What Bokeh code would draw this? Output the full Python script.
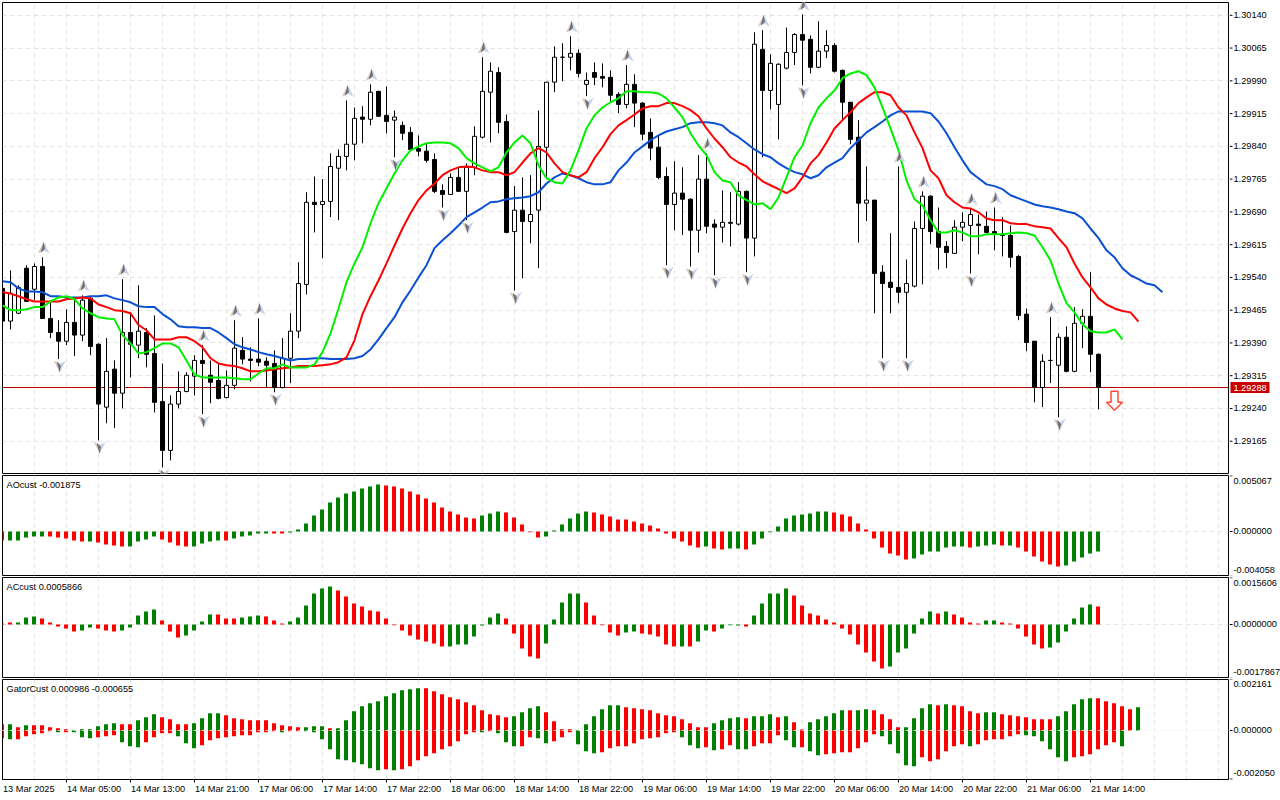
import numpy as np
from bokeh.plotting import figure
from bokeh.layouts import column, row
from bokeh.embed import file_html
from bokeh.resources import INLINE
from bokeh.core.properties import value
from bokeh.models import Range1d, LinearAxis, FixedTicker, Grid, Span, Label

# ---------- data: prices in points (1.29515 is written 29515) ----------
open_pts = [29515,29440,29458,29561,29513,29565,29446,29414,29394,29437,
29408,29492,29387,29243,29330,29275,29414,29385,29414,29366,
29256,29144,29250,29279,29314,29350,29316,29304,29265,29293,
29373,29353,29353,29348,29343,29288,29355,29417,29524,29712,
29707,29714,29790,29817,29845,29907,29902,29966,29911,29900,
29888,29872,29835,29829,29810,29739,29730,29769,29737,29792,
29861,29964,30009,29897,29645,29694,29668,29694,29838,29987,
30044,30044,30053,29982,30009,30000,29998,29959,29936,29982,
29939,29872,29838,29771,29707,29733,29719,29648,29765,29662,
29655,29666,29662,29737,29630,30062,29968,29936,30019,30055,
30096,30085,30021,30058,30071,30014,29941,29861,29710,29717,
29552,29529,29517,29506,29520,29652,29726,29645,29611,29595,
29655,29659,29662,29657,29645,29639,29636,29588,29456,29394,
29288,29350,29339,29403,29325,29435,29451,29364]
close_pts = [29440,29504,29517,29485,29565,29446,29414,29394,29437,29408,
29488,29382,29250,29325,29275,29414,29387,29417,29364,29254,
29144,29250,29279,29316,29350,29343,29300,29263,29293,29378,
29353,29350,29346,29339,29288,29355,29417,29526,29712,29707,
29714,29794,29817,29845,29904,29902,29964,29909,29897,29907,
29870,29833,29829,29808,29737,29730,29769,29737,29792,29863,
29966,30012,29895,29643,29694,29668,29684,29840,29987,30044,
30044,30053,30007,29991,29998,29996,29957,29936,29982,29939,
29868,29836,29769,29707,29733,29719,29648,29765,29657,29655,
29666,29664,29737,29630,30074,29968,30030,30028,30055,30096,
30083,30021,30058,30071,30012,29941,29856,29710,29717,29549,
29526,29517,29506,29526,29652,29726,29645,29609,29597,29655,
29666,29684,29659,29643,29639,29636,29586,29453,29391,29288,
29348,29350,29403,29325,29435,29451,29364,29288]
high_pts = [29556,29556,29522,29568,29572,29586,29488,29442,29467,29488,
29499,29495,29389,29401,29350,29536,29460,29522,29424,29453,
29343,29270,29325,29323,29362,29385,29350,29343,29327,29442,
29403,29380,29446,29357,29373,29401,29458,29575,29735,29771,
29765,29824,29833,29945,29929,29932,29982,29967,29977,29922,
29897,29884,29865,29847,29824,29753,29778,29792,29801,29886,
30044,30032,30021,29913,29749,29769,29774,29922,29987,30069,
30076,30092,30062,30009,30032,30030,30014,29964,30026,30005,
29941,29904,29865,29792,29806,29792,29721,29820,29824,29673,
29739,29735,29758,29739,30101,30106,30051,30030,30112,30099,
30142,30094,30126,30106,30076,30016,29941,29900,29794,29717,
29568,29641,29794,29581,29668,29737,29728,29700,29623,29671,
29689,29698,29684,29691,29700,29678,29659,29591,29469,29394,
29364,29449,29412,29428,29472,29467,29552,29366]
low_pts = [29419,29421,29456,29485,29488,29445,29401,29353,29385,29360,
29394,29362,29167,29206,29195,29240,29311,29355,29334,29231,
29105,29121,29240,29277,29270,29227,29252,29261,29263,29284,
29341,29302,29337,29288,29277,29286,29298,29401,29501,29643,
29584,29678,29671,29785,29808,29847,29888,29907,29870,29815,
29854,29831,29817,29803,29733,29700,29730,29737,29671,29774,
29858,29849,29870,29641,29510,29538,29618,29561,29769,29964,
29989,30014,29998,29955,29980,29975,29941,29916,29927,29884,
29854,29808,29765,29568,29648,29637,29565,29597,29641,29545,
29620,29611,29659,29552,29588,29815,29925,29856,30016,30026,
29980,30007,30019,30042,30009,29900,29845,29620,29669,29458,
29355,29458,29481,29355,29517,29524,29616,29558,29561,29595,
29623,29549,29593,29641,29602,29588,29563,29442,29371,29254,
29243,29298,29220,29323,29323,29378,29323,29238]

jaw_pts = [29531,29529,29515,29508,29508,29506,29497,29497,29494,29494,
29494,29497,29497,29499,29492,29488,29483,29474,29472,29472,
29456,29444,29428,29426,29426,29424,29424,29414,29401,29387,
29380,29375,29369,29364,29360,29355,29350,29353,29353,29355,
29355,29353,29353,29353,29355,29360,29375,29398,29424,29449,
29483,29510,29540,29568,29607,29625,29641,29659,29678,29689,
29700,29712,29714,29719,29721,29723,29726,29735,29755,29769,
29778,29774,29767,29758,29753,29753,29758,29785,29803,29826,
29840,29854,29865,29874,29879,29884,29893,29895,29895,29893,
29888,29872,29861,29847,29833,29822,29815,29801,29790,29781,
29776,29767,29774,29792,29803,29813,29836,29854,29872,29884,
29897,29911,29920,29920,29920,29920,29916,29897,29870,29838,
29808,29781,29767,29753,29749,29742,29728,29721,29714,29707,
29703,29700,29696,29691,29687,29675,29652,29630,29602,29586,
29561,29545,29536,29526,29522,29506]
teeth_pts = [29506,29503,29497,29490,29485,29485,29485,29485,29490,29492,
29494,29492,29478,29472,29465,29463,29458,29431,29419,29398,
29398,29398,29403,29403,29394,29380,29355,29343,29339,29337,
29332,29325,29325,29327,29330,29332,29334,29337,29337,29337,
29339,29341,29346,29357,29396,29456,29497,29533,29572,29613,
29652,29687,29717,29739,29755,29774,29785,29792,29794,29792,
29785,29781,29781,29774,29781,29803,29824,29836,29826,29801,
29781,29774,29769,29781,29813,29838,29868,29888,29900,29913,
29927,29932,29932,29939,29939,29932,29923,29909,29881,29858,
29838,29815,29803,29794,29776,29760,29751,29742,29733,29744,
29769,29801,29820,29849,29881,29900,29918,29939,29952,29964,
29964,29957,29929,29911,29872,29836,29785,29767,29728,29712,
29700,29698,29689,29675,29671,29671,29664,29662,29662,29657,
29655,29652,29630,29609,29572,29540,29517,29492,29478,29469,
29463,29460,29439]
lips_pts = [29476,29465,29465,29467,29472,29472,29485,29494,29497,29490,
29469,29458,29449,29446,29444,29408,29389,29366,29369,29378,
29389,29389,29380,29350,29318,29311,29311,29311,29311,29309,
29307,29307,29320,29332,29332,29341,29334,29334,29334,29341,
29369,29412,29469,29529,29572,29609,29664,29710,29744,29778,
29808,29831,29840,29847,29849,29849,29847,29836,29813,29801,
29792,29783,29792,29826,29849,29865,29847,29797,29767,29758,
29755,29785,29831,29881,29911,29929,29941,29950,29966,29966,
29964,29964,29961,29950,29929,29907,29870,29842,29820,29781,
29762,29758,29728,29717,29707,29710,29696,29723,29769,29815,
29842,29893,29929,29950,29968,29996,30007,30012,30003,29975,
29929,29881,29831,29762,29719,29705,29671,29643,29643,29648,
29643,29634,29634,29639,29639,29639,29641,29643,29641,29636,
29609,29579,29526,29481,29460,29433,29417,29414,29414,29421,
29398]

fractal_up = [5,10,15,25,29,32,43,46,60,71,78,88,95,100,112,115,121,124,131]
fractal_down = [7,12,20,25,34,49,55,58,64,73,83,86,89,93,100,110,113,121,132]
signal_bar = [139]
signal_pts = [29236]
last_price = 1.29288

# indicator values in millionths
ao_vals = [-818,-818,-818,-545,-455,-455,-455,-545,-636,-818,
-909,-909,-1000,-1182,-1273,-1364,-1364,-909,-727,-455,
-727,-1000,-1273,-1364,-1364,-1091,-909,-818,-818,-636,
-455,-364,-182,-182,-182,-182,-91,182,727,1454,
2000,2636,3091,3454,3636,3909,4091,4272,4181,4091,
3909,3636,3363,3000,2636,2182,1818,1545,1273,1182,
1454,1636,1818,1727,1273,636,-60,-545,-455,90,
636,1182,1636,1818,1727,1545,1364,1091,1091,909,
727,545,273,-182,-636,-909,-1273,-1454,-1364,-1545,
-1636,-1545,-1545,-1636,-1182,-636,-60,454,1182,1454,
1545,1636,1818,1818,1727,1545,1364,727,182,-636,
-1454,-2000,-2182,-2545,-2454,-2091,-1818,-1818,-1454,-1364,
-1364,-1454,-1364,-1273,-1182,-1273,-1273,-1454,-1818,-2273,
-2727,-3000,-3182,-3091,-2727,-2364,-2000,-1818]
ao_dir = ("RGGGGGRRRR" "RGRRRRGGGG" "RRRRGGGGRG" "GGGGRRGGGG" "GGGGGGGGRR"
          "RRRRRRRRRR" "GGGRRRRRGG" "GGGGRRRRRR" "RRRRRRRRGR" "RGGRGGGGGG"
          "GGGGRRRRRR" "RRRRGGGGGG" "GRGGGRGRRR" "RRRGGGGG")
ac_vals = [33,67,67,233,266,200,67,-67,-133,-233,
-200,-100,-133,-200,-233,-200,-100,300,433,500,
133,-233,-433,-366,-200,100,333,333,200,200,
233,266,300,266,133,33,100,233,633,1032,
1199,1265,1132,932,699,599,466,433,200,-22,
-200,-366,-500,-566,-633,-733,-733,-666,-666,-400,
-33,233,366,200,-300,-799,-1066,-1132,-633,167,
733,1032,1032,733,300,-22,-266,-366,-266,-233,
-300,-333,-400,-666,-733,-733,-733,-566,-200,-233,
-133,-22,-33,-67,300,699,1032,1032,1199,966,
633,366,300,167,67,-133,-333,-666,-932,-1232,
-1465,-1399,-932,-799,-300,200,433,366,433,333,
233,67,33,133,133,67,33,-133,-400,-666,
-799,-766,-599,-233,200,566,666,599]
ac_dir = ("RRGGGRRRRR" "GGRRRGGGGG" "RRRGGGGRRR" "GGGRRRGGGG" "GGRRRRRRRR"
          "RRRRRRGGGG" "GGGRRRRRGG" "GGGRRRRRGG" "RRRRRGRGGR" "GGGRGGGGGR"
          "RRRRRRRRRR" "RGGGGGGRGR" "RRRGGRRRRR" "RGGGGGGR")
gator_up = [267,267,141,225,225,225,141,98,56,14,
56,56,183,267,309,267,267,436,562,689,
562,478,267,267,309,520,731,731,647,520,
478,436,436,436,309,225,183,141,141,183,
183,98,98,436,815,1026,1153,1237,1448,1575,
1701,1743,1786,1786,1659,1533,1406,1322,1195,1069,
858,689,647,562,605,773,942,1026,773,394,
56,56,14,267,605,900,1069,1069,984,942,
900,858,731,647,605,478,309,141,141,309,
436,520,562,520,605,605,689,562,605,352,
42,352,478,605,731,858,858,858,900,858,
689,478,141,141,520,942,1111,1069,1111,1069,
1026,815,731,773,773,689,647,605,562,478,
478,478,605,815,1111,1322,1364,1364,1237,1153,
1026,900,984]
gator_up_dir = ("RGRGRRRRRG" "GGGGGRRGGG" "RRRRGGGGRR" "RRRRRRRRGG" "GRGGGGGGGG"
                "GGGRRRRRRR" "RRRRGGGGRR" "RRGGGGGGRR" "RRRRRRRRRG" "GGGRGGGRGR"
                "RGGGGGRGGR" "RRRGGGGRGR" "RRRGGRRRRR" "RRGGGGGRRR" "RRG")
gator_down = [-323,-366,-366,-239,-155,-112,-28,-70,-70,-70,
-281,-323,-281,-239,-197,-492,-661,-703,-492,-281,
-112,-112,-239,-534,-745,-619,-408,-323,-281,-239,
-197,-197,-70,-70,-28,-70,-28,-28,-28,-70,
-366,-787,-1209,-1251,-1336,-1420,-1589,-1673,-1631,-1673,
-1631,-1504,-1251,-1083,-956,-787,-661,-450,-155,-70,
-70,-28,-112,-492,-661,-661,-281,-323,-534,-450,
-281,-70,-576,-872,-956,-914,-745,-661,-661,-534,
-366,-323,-281,-112,-70,-281,-619,-745,-703,-830,
-787,-619,-787,-787,-661,-534,-534,-197,-408,-703,
-703,-872,-1040,-998,-956,-914,-914,-745,-492,-155,
-239,-576,-956,-1462,-1504,-1125,-1294,-1209,-872,-661,
-576,-661,-576,-408,-366,-366,-239,-155,-197,-239,
-450,-787,-1125,-1294,-1125,-1083,-998,-787,-619,-492,
-661]
gator_down_dir = ("RGRRRRRGRG" "GGRRRGGGRR" "RRGGGRRRRR" "RRRRRGRRGG" "GGGGGGGGRG"
                  "RRRRRRRRRR" "GRGGGRRGGR" "RRGGGRRRRR" "RRRRRGGGRG" "RRGGRRRRGG"
                  "RGGRRRRRRR" "GGGGGRRRRR" "RGRRRRRRGG" "GGGGRRRRRR" "G")

price_ticks = [1.29165,1.29240,1.29315,1.29390,1.29465,1.29540,1.29615,
               1.29690,1.29765,1.29840,1.29915,1.29990,1.30065,1.30140]
time_bars = [0,8,16,24,32,40,48,56,64,72,80,88,96,104,112,120,128,136]
time_labels = ["13 Mar 2025","14 Mar 05:00","14 Mar 13:00","14 Mar 21:00","17 Mar 06:00",
               "17 Mar 14:00","17 Mar 22:00","18 Mar 06:00","18 Mar 14:00","18 Mar 22:00",
               "19 Mar 06:00","19 Mar 14:00","19 Mar 22:00","20 Mar 06:00","20 Mar 14:00",
               "20 Mar 22:00","21 Mar 06:00","21 Mar 14:00"]
ao_scale = ["AOcust -0.001875", 0.005067, -0.004058, "0.005067", "-0.004058", "0.000000"]
ac_scale = ["ACcust 0.0005866", 0.0015606, -0.0017867, "0.0015606", "-0.0017867", "0.0000000"]
gator_scale = ["GatorCust 0.000986 -0.000655", 0.002161, -0.002050, "0.002161", "-0.002050", "0.000000"]

# ---------- style ----------
FONT = "Liberation Sans"
FS = "9.2px"
GRID = "#e2e2e2"
GREEN, RED = "#008000", "#ff0000"
X_END = 1226 / 8
PX = 1 / 43684          # price per pixel in the main window
HALF = 0.0625           # half a pixel in bar units: fills start on whole pixels
MAIN_YMAX = last_price + 385 * PX
MAIN_YMIN = MAIN_YMAX - 471 * PX

def price(a):
    return 1 + np.array(a, dtype=float) / 1e5

def make(h, top, bottom, ymin, ymax):
    p = figure(width=1229, height=h, output_backend="svg", toolbar_location=None,
               x_range=Range1d(0, X_END), y_range=Range1d(ymin, ymax),
               x_axis_type=None, y_axis_type=None,
               min_border_left=2, min_border_right=1, min_border_top=top, min_border_bottom=bottom)
    p.outline_line_color = "black"
    p.outline_line_width = 1
    p.background_fill_color = "white"
    p.border_fill_color = "white"
    p.grid.visible = False
    p.add_layout(Grid(dimension=0, ticker=FixedTicker(ticks=list(range(4, 154, 4))),
                      grid_line_color=GRID, grid_line_dash="4 4", grid_line_width=1, level="underlay"))
    return p

def make_strip(h, top, bottom, ymin, ymax):
    s = figure(width=51, height=h, output_backend="svg", toolbar_location=None,
               x_range=Range1d(0, 51), y_range=Range1d(ymin, ymax),
               x_axis_type=None, y_axis_type=None,
               min_border_left=0, min_border_right=0, min_border_top=top, min_border_bottom=bottom)
    s.outline_line_color = None
    s.background_fill_color = "white"
    s.border_fill_color = "white"
    s.grid.visible = False
    return s

def strip_text(s, ys, texts, offsets=None):
    s.segment([0] * len(ys), ys, [3] * len(ys), ys, line_color="black", line_width=1)
    s.text([4] * len(ys), ys, texts, y_offset=offsets if offsets else 0, text_font=value(FONT),
           text_font_size=value(FS), text_baseline="middle", text_align="left", text_color="black")

# ---------- main window ----------
main = make(475, 2, 2, MAIN_YMIN, MAIN_YMAX)
main.add_layout(Grid(dimension=1, ticker=FixedTicker(ticks=price_ticks), grid_line_color=GRID,
                     grid_line_dash="4 4", level="underlay"))
main.add_layout(Span(location=last_price, dimension="width", line_color="#c00000", line_width=1, level="underlay"))

o, h_, l_, c = price(open_pts), price(high_pts), price(low_pts), price(close_pts)
xb = np.arange(len(o))
main.segment(xb, h_, xb, l_, line_color="black", line_width=1)
up = c >= o
main.vbar(xb[up], 0.5, o[up], c[up], fill_color="white", line_color="black", line_width=1)
main.vbar(xb[~up], 0.5, o[~up], c[~up], fill_color="black", line_color="black", line_width=1)

main.line(np.arange(len(jaw_pts)), price(jaw_pts), line_color="#0A50D2", line_width=2)
main.line(np.arange(len(teeth_pts)), price(teeth_pts), line_color="#ff0000", line_width=2)
main.line(np.arange(len(lips_pts)), price(lips_pts), line_color="#00f000", line_width=2)

# fractal arrows: small shaded arrowheads tied to the bar's high or low
def arrows(idx, base, off, sign):
    lx, ly, rx, ry, kx, ky = [], [], [], [], [], []
    for i in idx:
        cx = i + 0.15
        cy = base[i] + sign * off * PX
        tip = cy + sign * 6.5 * PX
        wing = cy - sign * 5.5 * PX
        notch = cy - sign * 2 * PX
        lx.append([cx, cx - 6 / 8, cx]); ly.append([tip, wing, notch])
        rx.append([cx, cx, cx + 6 / 8]); ry.append([tip, notch, wing])
        kx.append([cx, cx - 3 / 8, cx, cx + 1.2 / 8]); ky.append([tip, wing + sign * 1 * PX, notch, cy])
    return lx, ly, rx, ry, kx, ky

for idx, base, off, sign in ((fractal_up, h_, 9, 1), (fractal_down, l_, 7, -1)):
    lx, ly, rx, ry, kx, ky = arrows(idx, base, off, sign)
    main.patches(lx, ly, fill_color="#d3c8ba", line_color=None)
    main.patches(rx, ry, fill_color="#c8d3ea", line_color=None)
    main.patches(kx, ky, fill_color="#6f7076", line_color=None)

# sell signal arrow
sx, sy = signal_bar[0], price(signal_pts)[0]
main.patch([sx + d / 8 for d in (0, -8, -3.5, -3.5, 3.5, 3.5, 8)],
           [sy + d * PX for d in (0, 8, 8, 19, 19, 8, 8)],
           fill_color="white", line_color="#ff4a3a", line_width=1.5)

main_strip = make_strip(475, 2, 2, MAIN_YMIN, MAIN_YMAX)
strip_text(main_strip, price_ticks, [f"{t:.5f}" for t in price_ticks])
main_strip.rect([20.5], [last_price], width=39, height=11, height_units="screen",
                fill_color="#c80000", line_color=None)
main_strip.text([20.5], [last_price], ["1.29288"], text_font=value(FONT), text_font_size=value(FS),
                text_color="white", text_align="center", text_baseline="middle")

# ---------- indicator windows ----------
def panel(h, bottom, zero_px, scale):
    ymax = zero_px / scale
    ymin = -(100 - zero_px) / scale
    return make(h, 0, bottom, ymin, ymax), make_strip(h, 0, bottom, ymin, ymax)

def finish(p, s, spec, top_off, bot_off):
    title, top, bot, top_s, bot_s, zero_s = spec
    strip_text(s, [top, 0, bot], [top_s, zero_s, bot_s], [top_off, -1, bot_off])
    p.add_layout(Span(location=0, dimension="width", line_color=GRID, line_dash="4 4", line_width=1, level="underlay"))
    p.add_layout(Label(x=4, y=91, x_units="screen", y_units="screen", text=title, text_font=FONT,
                       text_font_size=FS, text_baseline="middle", text_color="black"))

def colours(flags):
    return [GREEN if f == "G" else RED for f in flags]

ao, ao_s = panel(102, 2, 56, 11000)
ao.vbar(np.arange(len(ao_vals)) - HALF, 0.5, np.array(ao_vals) / 1e6, 0, fill_color=colours(ao_dir), line_color=None)
finish(ao, ao_s, ao_scale, 5, -6.6)

ac, ac_s = panel(102, 2, 47, 30000)
ac.vbar(np.arange(len(ac_vals)) - HALF, 0.5, np.array(ac_vals) / 1e6, 0, fill_color=colours(ac_dir), line_color=None)
finish(ac, ac_s, ac_scale, 5, -6)

gt, gt_s = panel(104, 4, 51, 23700)
gt.vbar(np.arange(len(gator_up)) - HALF, 0.5, np.array(gator_up) / 1e6, 0, fill_color=colours(gator_up_dir), line_color=None)
gt.vbar(np.arange(len(gator_down)) - HALF, 0.5, 0, np.array(gator_down) / 1e6, fill_color=colours(gator_down_dir), line_color=None)
finish(gt, gt_s, gator_scale, 5, -5.6)
gt.add_layout(Span(location=0, dimension="width", line_color="#f2f2f2", line_dash="4 4", line_width=1, level="annotation"))

bottom_axis = LinearAxis(ticker=FixedTicker(ticks=time_bars[1:]), axis_line_color="black", major_tick_in=0,
                         major_tick_out=3, major_tick_line_color="black", minor_tick_line_color=None,
                         major_label_overrides={b: "" for b in time_bars[1:]}, major_label_text_font_size="1px",
                         major_label_standoff=0)
gt.add_layout(bottom_axis, "below")

# time labels live in a strip of their own under the last window
time_strip = figure(width=1280, height=17, output_backend="svg", toolbar_location=None,
                    x_range=Range1d(0, 1278 / 8), y_range=Range1d(0, 17), x_axis_type=None, y_axis_type=None,
                    min_border_left=2, min_border_right=0, min_border_top=0, min_border_bottom=0)
time_strip.outline_line_color = None
time_strip.grid.visible = False
time_strip.text(time_bars, [12] * len(time_bars), time_labels, x_offset=0.5, text_font=value(FONT),
                text_font_size=value(FS), text_baseline="middle", text_align="left", text_color="black")

page = column(row(main, main_strip, spacing=0), row(ao, ao_s, spacing=0), row(ac, ac_s, spacing=0),
              row(gt, gt_s, spacing=0), time_strip, spacing=0)
page.styles = {"position": "absolute", "left": "0px", "top": "0px"}
open("out.html", "w").write(file_html(page, INLINE))
